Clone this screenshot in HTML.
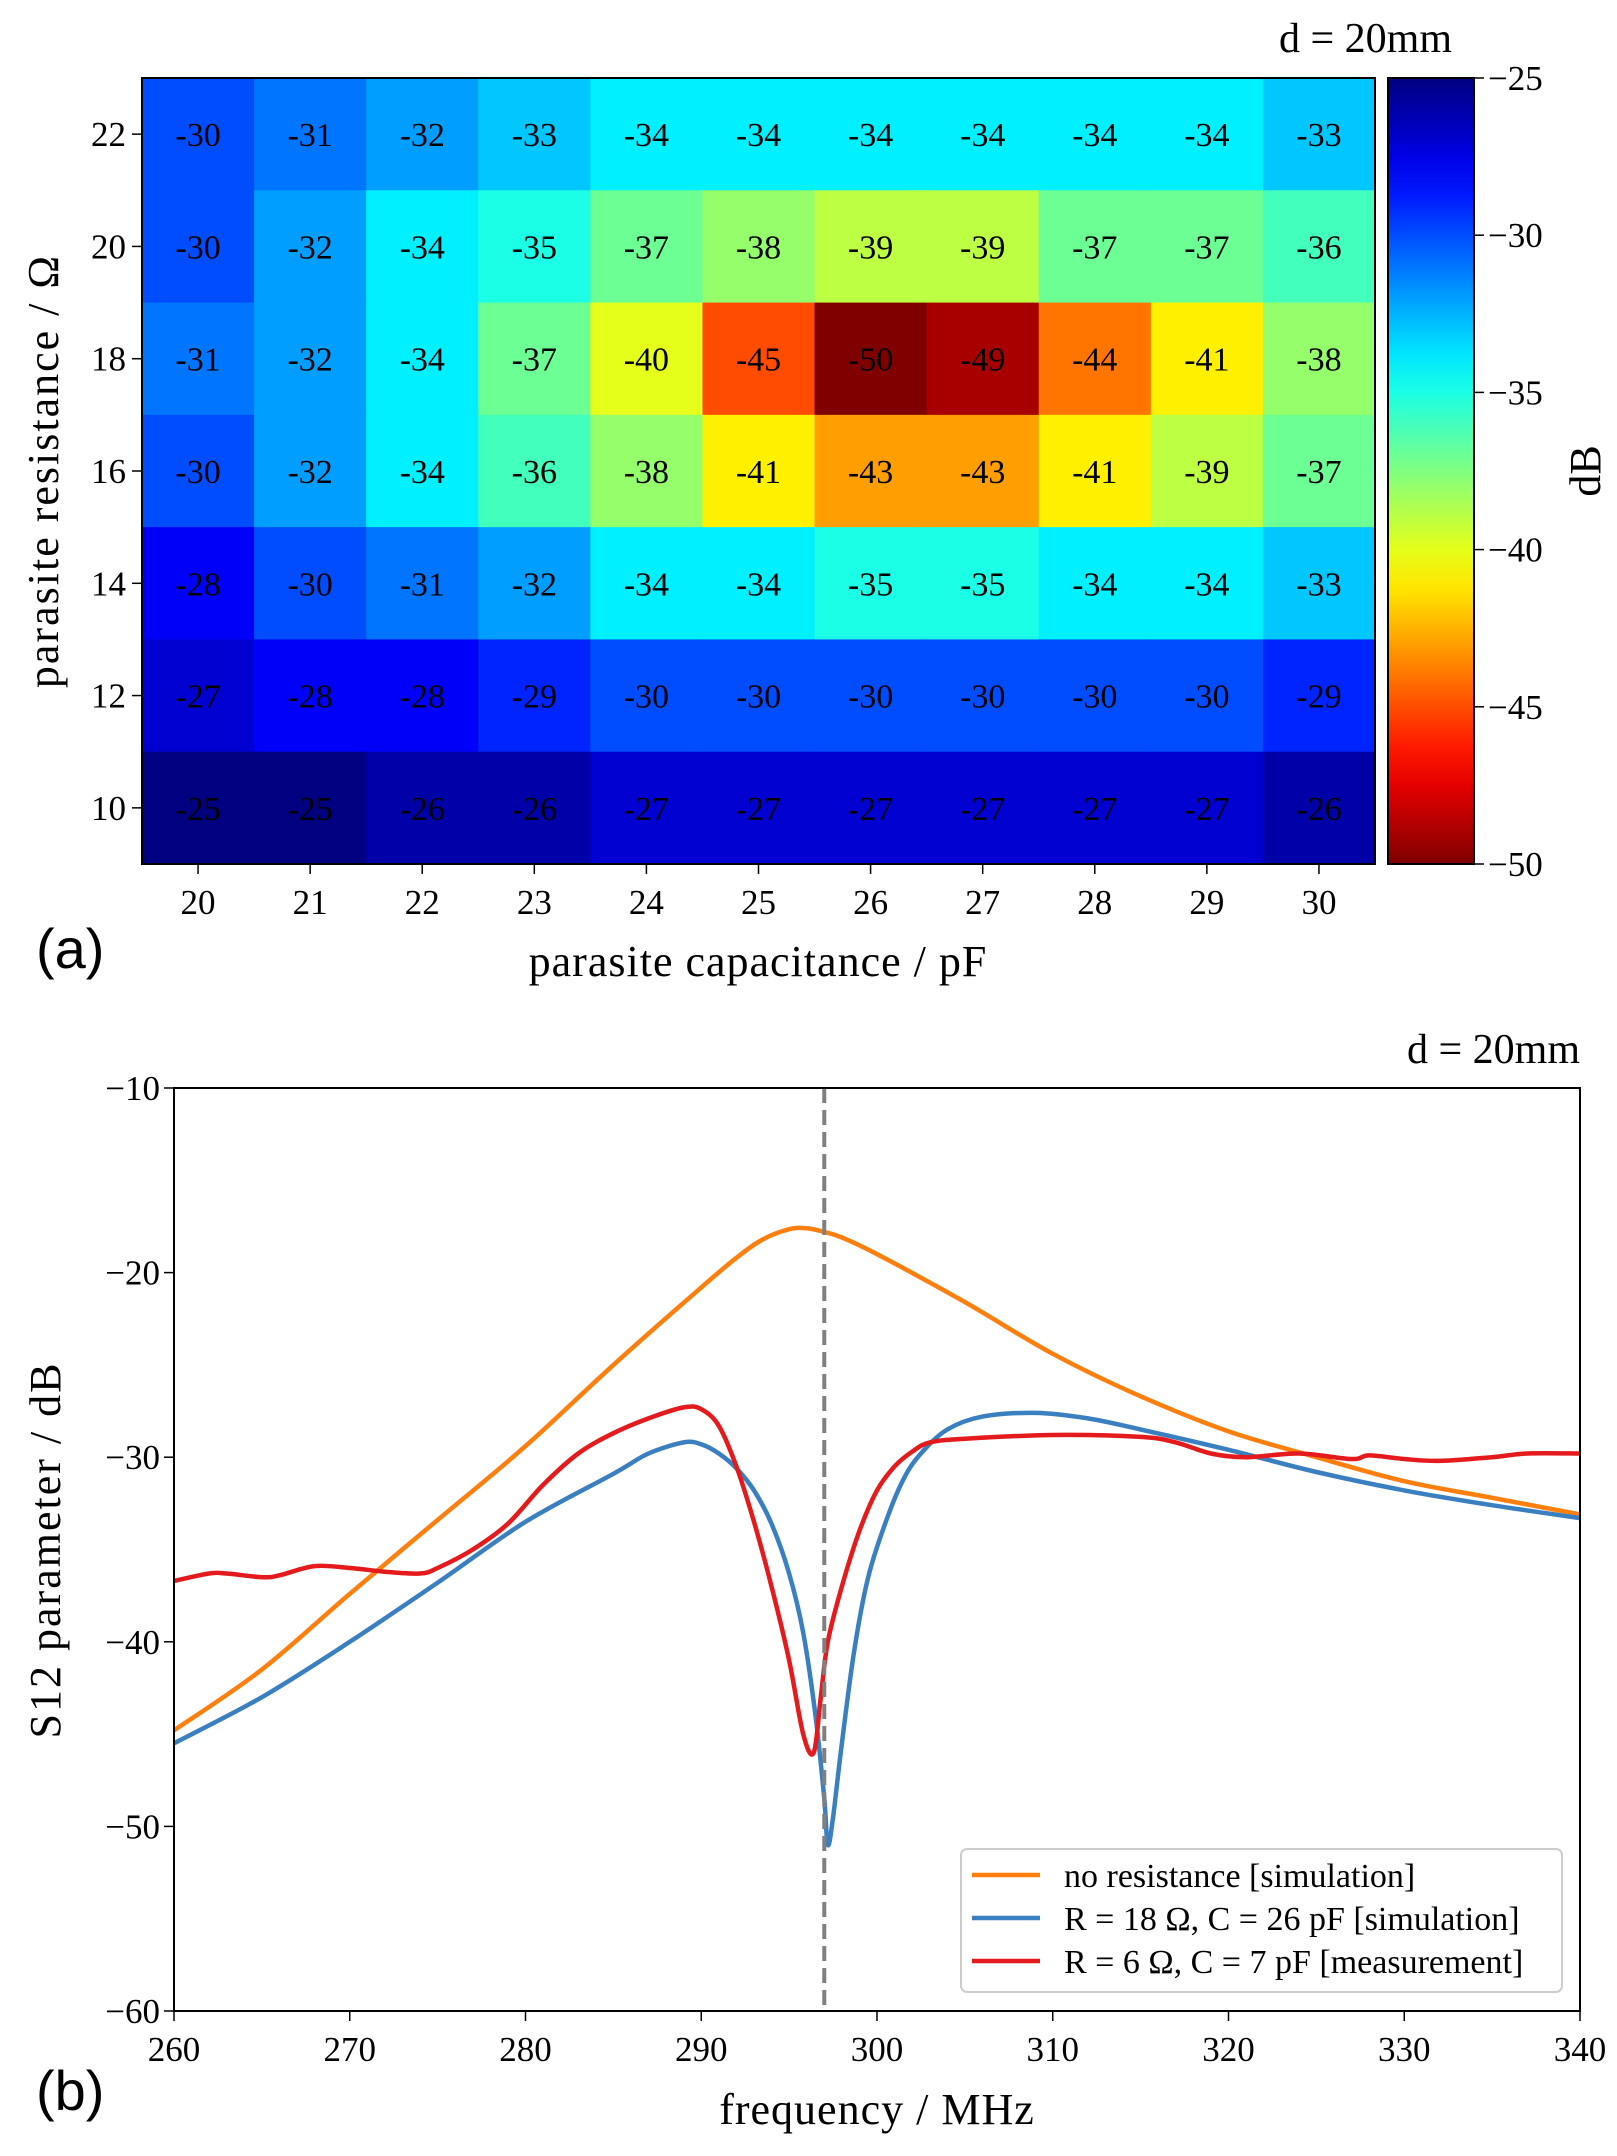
<!DOCTYPE html>
<html><head><meta charset="utf-8"><style>
html,body{margin:0;padding:0;background:#fff}
svg{display:block}
text{font-family:"Liberation Serif",serif;fill:#000}
</style></head><body>
<svg id="svg" width="1617" height="2156" xmlns="http://www.w3.org/2000/svg"></svg>
<script>
// ---- Heatmap data ----
const capCats = [20,21,22,23,24,25,26,27,28,29,30];
const resCats = [22,20,18,16,14,12,10];
const heatVals = [
 [-30,-31,-32,-33,-34,-34,-34,-34,-34,-34,-33],
 [-30,-32,-34,-35,-37,-38,-39,-39,-37,-37,-36],
 [-31,-32,-34,-37,-40,-45,-50,-49,-44,-41,-38],
 [-30,-32,-34,-36,-38,-41,-43,-43,-41,-39,-37],
 [-28,-30,-31,-32,-34,-34,-35,-35,-34,-34,-33],
 [-27,-28,-28,-29,-30,-30,-30,-30,-30,-30,-29],
 [-25,-25,-26,-26,-27,-27,-27,-27,-27,-27,-26]
];
const cbTicks = [-25,-30,-35,-40,-45,-50];
// ---- Line chart data ----
const freqTicks = [260,270,280,290,300,310,320,330,340];
const s12Ticks = [-10,-20,-30,-40,-50,-60];
const orangeF = [260,265,270,275,280,285,290,292,293.5,295,296,297,298,300,305,310,315,320,325,330,335,340];
const orangeV = [-44.8,-41.5,-37.4,-33.4,-29.4,-25.0,-20.8,-19.2,-18.2,-17.65,-17.6,-17.8,-18.1,-19.0,-21.6,-24.4,-26.7,-28.6,-30.0,-31.3,-32.2,-33.1];
const blueF = [260,265,270,275,280,285,287,289,290,291,292,293,294,295,295.8,296.5,297,297.2,297.5,298,298.7,299.5,300.5,301.5,302.5,304,306,309,312,315,320,325,330,335,340];
const blueV = [-45.5,-43,-40,-36.8,-33.5,-30.9,-29.8,-29.2,-29.3,-29.8,-30.6,-31.8,-33.6,-36.3,-39.5,-44,-48.5,-51,-49.5,-45.5,-40.5,-36.5,-33.5,-31.2,-29.8,-28.5,-27.8,-27.6,-27.9,-28.5,-29.6,-30.8,-31.8,-32.6,-33.3];
const redF = [260,262,263,265,266,268,270,272,274,275,277,279,281,283,285,287,289,290,291,292,293,294,295,295.8,296.4,296.8,297.2,298,299,300,301,302,303,305,310,315,317,319,321,324,327,328,330,332,335,337,340];
const redV = [-36.7,-36.3,-36.3,-36.5,-36.4,-35.9,-36.0,-36.2,-36.3,-36.0,-35,-33.6,-31.5,-29.8,-28.7,-27.9,-27.3,-27.4,-28.3,-30.5,-33.5,-37,-41,-45,-46,-43,-40,-37,-34,-31.8,-30.5,-29.7,-29.2,-29.0,-28.8,-28.9,-29.2,-29.8,-30.0,-29.8,-30.1,-29.9,-30.1,-30.2,-30.0,-29.8,-29.8];
const resonanceF = 297;

const NS="http://www.w3.org/2000/svg";
const svg=document.getElementById('svg');
function mk(tag,attrs,parent,txt){const e=document.createElementNS(NS,tag);for(const k in attrs)e.setAttribute(k,attrs[k]);if(txt!==undefined)e.textContent=txt;(parent||svg).appendChild(e);return e;}
function jet(t){t=Math.max(0,Math.min(1,t));
 const r=Math.max(0,Math.min(1,1.5-Math.abs(4*t-3))),g=Math.max(0,Math.min(1,1.5-Math.abs(4*t-2))),b=Math.max(0,Math.min(1,1.5-Math.abs(4*t-1)));
 return `rgb(${Math.round(r*255)},${Math.round(g*255)},${Math.round(b*255)})`;}
function colorOf(v){return jet((-25-v)/25);}
const TF=35;

// ===== Panel (a) heatmap =====
const hx0=142,hx1=1375,hy0=78,hy1=864;
const cw=(hx1-hx0)/capCats.length, ch=(hy1-hy0)/resCats.length;
const gHeat=mk('g',{},svg);


resCats.forEach((r,i)=>{capCats.forEach((c,j)=>{
 const v=heatVals[i][j];
 const rc=mk('rect',{x:hx0+j*cw,y:hy0+i*ch,width:cw+0.5,height:ch+0.5,fill:colorOf(v)},gHeat);
 
 
 const t=mk('text',{x:hx0+(j+0.5)*cw,y:hy0+(i+0.5)*ch+12,'font-size':34,'text-anchor':'middle'},gHeat,String(v));
 
 
});});
mk('rect',{x:hx0,y:hy0,width:hx1-hx0,height:hy1-hy0,fill:'none',stroke:'#000','stroke-width':2});
resCats.forEach((r,i)=>{const y=hy0+(i+0.5)*ch;
 mk('line',{x1:hx0-10,x2:hx0,y1:y,y2:y,stroke:'#000','stroke-width':1.5});
 const t=mk('text',{x:hx0-16,y:y+12,'font-size':TF,'text-anchor':'end'},svg,String(r));
 
 
});
capCats.forEach((c,j)=>{const x=hx0+(j+0.5)*cw;
 mk('line',{x1:x,x2:x,y1:hy1,y2:hy1+10,stroke:'#000','stroke-width':1.5});
 const t=mk('text',{x:x,y:hy1+50,'font-size':TF,'text-anchor':'middle'},svg,String(c));
 
 
});
// colorbar
const cbx0=1388,cbx1=1474;
const defs=mk('defs',{});const lg=mk('linearGradient',{id:'jetg',x1:0,y1:0,x2:0,y2:1},defs);
for(let k=0;k<=20;k++)mk('stop',{offset:k/20,'stop-color':jet(k/20)},lg);
const cb=mk('rect',{x:cbx0,y:hy0,width:cbx1-cbx0,height:hy1-hy0,fill:'url(#jetg)',stroke:'#000','stroke-width':2});


cbTicks.forEach(v=>{const y=hy0+(-25-v)/25*(hy1-hy0);
 mk('line',{x1:cbx1,x2:cbx1+10,y1:y,y2:y,stroke:'#000','stroke-width':1.5});
 const t=mk('text',{x:cbx1+14,y:y+12,'font-size':TF},svg,'\u2212'+Math.abs(v));
 
 
});
// labels (a)
let e;
e=mk('text',{x:1452,y:52,'font-size':42,'text-anchor':'end'},svg,'d = 20mm');
e=mk('text',{x:0,y:0,'font-size':44,'text-anchor':'middle','letter-spacing':2,transform:'translate(58,471) rotate(-90)'},svg,'parasite resistance / Ω');
e=mk('text',{x:758,y:976,'font-size':44,'text-anchor':'middle','letter-spacing':1},svg,'parasite capacitance / pF');
e=mk('text',{x:0,y:0,'font-size':44,'text-anchor':'middle',transform:'translate(1600,471) rotate(-90)'},svg,'dB');
e=mk('text',{x:36,y:968,'font-size':56,style:'font-family:"Liberation Sans",sans-serif'},svg,'(a)');

// ===== Panel (b) line chart =====
const lx0=174,lx1=1580,ly0=1088,ly1=2011;
const X=f=>lx0+(f-260)/80*(lx1-lx0);
const Y=v=>ly0+(-10-v)/50*(ly1-ly0);
s12Ticks.forEach(v=>{const y=Y(v);
 mk('line',{x1:lx0-10,x2:lx0,y1:y,y2:y,stroke:'#000','stroke-width':1.5});
 const t=mk('text',{x:lx0-14,y:y+12,'font-size':TF,'text-anchor':'end'},svg,'\u2212'+Math.abs(v));
 
 
});
freqTicks.forEach(f=>{const x=X(f);
 mk('line',{x1:x,x2:x,y1:ly1,y2:ly1+10,stroke:'#000','stroke-width':1.5});
 const t=mk('text',{x:x,y:ly1+50,'font-size':TF,'text-anchor':'middle'},svg,String(f));
 
 
});
const clip=mk('clipPath',{id:'pc'},defs);mk('rect',{x:lx0,y:ly0,width:lx1-lx0,height:ly1-ly0},clip);
const gl=mk('g',{'clip-path':'url(#pc)'},svg);
function line(F,V,color,name){
 const P=F.map((f,i)=>[X(f),Y(V[i])]);
 let d='M'+P[0][0].toFixed(1)+' '+P[0][1].toFixed(1);
 for(let i=0;i<P.length-1;i++){
  const p0=P[Math.max(0,i-1)],p1=P[i],p2=P[i+1],p3=P[Math.min(P.length-1,i+2)];
  const c1=[p1[0]+(p2[0]-p0[0])/6,p1[1]+(p2[1]-p0[1])/6];
  const c2=[p2[0]-(p3[0]-p1[0])/6,p2[1]-(p3[1]-p1[1])/6];
  c1[0]=Math.min(Math.max(c1[0],p1[0]),p2[0]);c2[0]=Math.min(Math.max(c2[0],p1[0]),p2[0]);
  d+=` C${c1[0].toFixed(1)} ${c1[1].toFixed(1)} ${c2[0].toFixed(1)} ${c2[1].toFixed(1)} ${p2[0].toFixed(1)} ${p2[1].toFixed(1)}`;
 }
 const p=mk('path',{d:d,fill:'none',stroke:color,'stroke-width':4.5,'stroke-linejoin':'round'},gl);
 
 
}
line(orangeF,orangeV,'#ff7f0e','series-no-resistance');
line(blueF,blueV,'#3a7fc0','series-r18-c26');
line(redF,redV,'#e41a1c','series-measurement');
e=mk('line',{x1:X(resonanceF),x2:X(resonanceF),y1:ly0,y2:ly1,stroke:'#808080','stroke-width':4,'stroke-dasharray':'15 7'});
mk('rect',{x:lx0,y:ly0,width:lx1-lx0,height:ly1-ly0,fill:'none',stroke:'#000','stroke-width':2});
// legend
const lgG=mk('g',{},svg);
mk('rect',{x:961,y:1849,width:601,height:143,rx:6,fill:'#fff','fill-opacity':0.85,stroke:'#ccc','stroke-width':2},lgG);
[['no resistance [simulation]','#ff7f0e'],['R = 18 Ω, C = 26 pF [simulation]','#3a7fc0'],['R = 6 Ω, C = 7 pF [measurement]','#e41a1c']].forEach((it,i)=>{
 const y=1875+i*43;
 mk('line',{x1:972,x2:1040,y1:y,y2:y,stroke:it[1],'stroke-width':4.5},lgG);
 const t=mk('text',{x:1064,y:y+12,'font-size':34},lgG,it[0]);
 
 
});
e=mk('text',{x:1580,y:1063,'font-size':42,'text-anchor':'end'},svg,'d = 20mm');
e=mk('text',{x:0,y:0,'font-size':44,'text-anchor':'middle','letter-spacing':2,transform:'translate(60,1550) rotate(-90)'},svg,'S12 parameter / dB');
e=mk('text',{x:877,y:2124,'font-size':44,'text-anchor':'middle','letter-spacing':1},svg,'frequency / MHz');
e=mk('text',{x:36,y:2110,'font-size':56,style:'font-family:"Liberation Sans",sans-serif'},svg,'(b)');
</script>
</body></html>
